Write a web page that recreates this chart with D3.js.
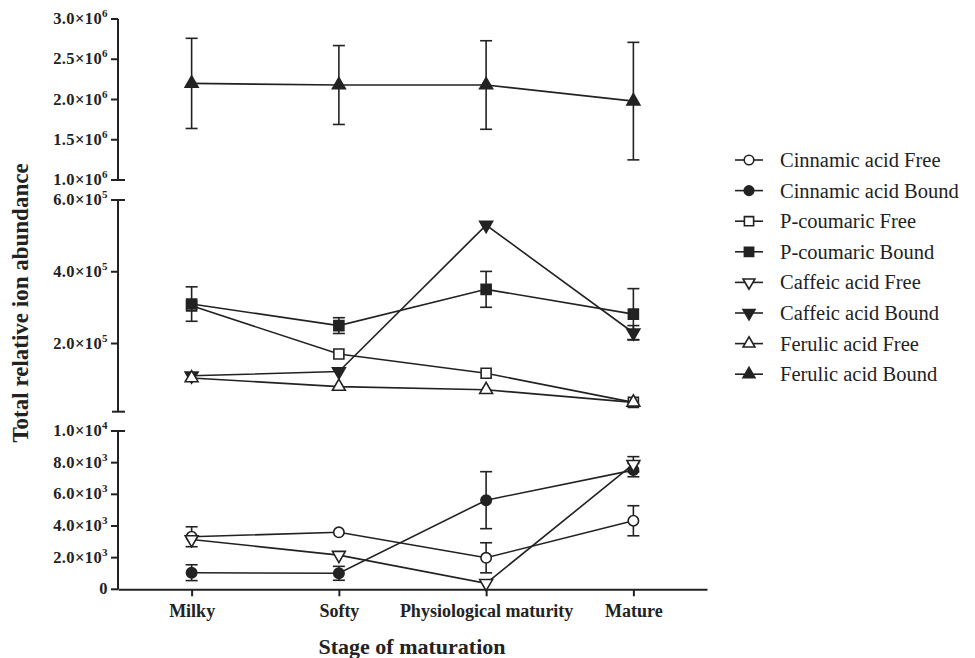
<!DOCTYPE html>
<meta charset="utf-8">
<head>
    <style>
        body { margin: 0; background: #fff; }
        svg { font-family: "Liberation Serif", "Times New Roman", serif; }
        .tick-label { font-weight: bold; font-size: 16.5px; letter-spacing: 0.4px; fill: #222; }
        .cat-label { font-weight: bold; font-size: 18px; fill: #222; }
        .axis-title { font-weight: bold; font-size: 22px; fill: #222; }
        .y-title { font-size: 23px; }
        .legend text { font-size: 20.5px; fill: #222; }
    </style>
    <script src="https://d3js.org/d3.v7.min.js"></script>
</head>
<body>
<script>

    // stages on the x axis
    var stages = ["Milky", "Softy", "Physiological maturity", "Mature"];

    // series values (mean) and error (+/-)
    var cinnamicFree      = [3320, 3600, 1990, 4330];
    var cinnamicFreeErr   = [630, 0, 950, 950];
    var cinnamicBound     = [1050, 1010, 5630, 7530];
    var cinnamicBoundErr  = [500, 440, 1800, 420];
    var pCoumaricFree     = [305000, 171000, 117000, 36000];
    var pCoumaricFreeErr  = [0, 0, 0, 0];
    var pCoumaricBound    = [310000, 250000, 351000, 282000];
    var pCoumaricBoundErr = [48000, 22000, 50000, 71000];
    var caffeicFree       = [3150, 2160, 380, 7900];
    var caffeicFreeErr    = [0, 0, 0, 480];
    var caffeicBound      = [110000, 122000, 530000, 230000];
    var caffeicBoundErr   = [0, 0, 0, 20000];
    var ferulicFree       = [104000, 80000, 71000, 36000];
    var ferulicFreeErr    = [0, 0, 0, 0];
    var ferulicBound      = [2200000, 2180000, 2180000, 1980000];
    var ferulicBoundErr   = [560000, 490000, 550000, 730000];

    // y tick labels per axis segment: [value, mantissa, exponent]
    var topTicks = [[1e6, "1.0", "6"], [1.5e6, "1.5", "6"], [2e6, "2.0", "6"], [2.5e6, "2.5", "6"], [3e6, "3.0", "6"]];
    var midTicks = [[2e5, "2.0", "5"], [4e5, "4.0", "5"], [6e5, "6.0", "5"]];
    var botTicks = [[0, "0", ""], [2e3, "2.0", "3"], [4e3, "4.0", "3"], [6e3, "6.0", "3"], [8e3, "8.0", "3"], [1e4, "1.0", "4"]];

    var width = 975, height = 658;
    var axisX = 118, axisRight = 707;
    var ink = "#222";

    var svg = d3.select("body").append("svg")
        .attr("width", width)
        .attr("height", height);

    var x = d3.scalePoint()
        .domain(stages)
        .range([axisX, axisRight])
        .padding(0.5);

    // broken y axis: three segments
    var yTop = d3.scaleLinear().domain([1e6, 3e6]).range([180, 19]);
    var yMid = d3.scaleLinear().domain([1e4, 6e5]).range([411.7, 200]);
    var yBot = d3.scaleLinear().domain([0, 1e4]).range([589.3, 431]);

    var series = [
        {name: "Cinnamic acid Free",  v: cinnamicFree,   e: cinnamicFreeErr,   y: yBot, shape: "circle",   fill: false},
        {name: "Cinnamic acid Bound", v: cinnamicBound,  e: cinnamicBoundErr,  y: yBot, shape: "circle",   fill: true},
        {name: "P-coumaric Free",     v: pCoumaricFree,  e: pCoumaricFreeErr,  y: yMid, shape: "square",   fill: false},
        {name: "P-coumaric Bound",    v: pCoumaricBound, e: pCoumaricBoundErr, y: yMid, shape: "square",   fill: true},
        {name: "Caffeic acid Free",   v: caffeicFree,    e: caffeicFreeErr,    y: yBot, shape: "down",     fill: false},
        {name: "Caffeic acid Bound",  v: caffeicBound,   e: caffeicBoundErr,   y: yMid, shape: "down",     fill: true},
        {name: "Ferulic acid Free",   v: ferulicFree,    e: ferulicFreeErr,    y: yMid, shape: "up",       fill: false},
        {name: "Ferulic acid Bound",  v: ferulicBound,   e: ferulicBoundErr,   y: yTop, shape: "up",       fill: true}
    ];

    function symbolFor(shape, k) {
        k = k || 1;
        if (shape == "circle") return d3.symbol().type(d3.symbolCircle).size(85 * k)();
        if (shape == "square") return d3.symbol().type(d3.symbolSquare).size(100 * k)();
        return d3.symbol().type(d3.symbolTriangle).size(72 * k)();
    }
    function rot(shape) { return shape == "down" ? " rotate(180)" : ""; }

    // ---- y axis segments
    var segs = [
        {s: yTop, ticks: topTicks, capTop: false, capBot: true},
        {s: yMid, ticks: midTicks, capTop: true, capBot: true},
        {s: yBot, ticks: botTicks, capTop: true, capBot: false}
    ];
    var ax = svg.append("g").attr("class", "y-axis");
    segs.forEach(function (seg) {
        var r = seg.s.range();
        ax.append("line")
            .attr("x1", axisX).attr("x2", axisX)
            .attr("y1", r[0]).attr("y2", r[1])
            .attr("stroke", ink).attr("stroke-width", 2);
        seg.ticks.forEach(function (t) {
            var yy = seg.s(t[0]);
            ax.append("line")
                .attr("x1", axisX - 7).attr("x2", axisX)
                .attr("y1", yy).attr("y2", yy)
                .attr("stroke", ink).attr("stroke-width", 2);
            var txt = ax.append("text")
                .attr("class", "tick-label")
                .attr("x", axisX - 10)
                .attr("y", yy + 5)
                .attr("text-anchor", "end");
            if (t[2] === "") {
                txt.text(t[1]);
            } else {
                txt.append("tspan").text(t[1] + "\u00d710");
                txt.append("tspan").attr("dy", -7).attr("font-size", "11px").text(t[2]);
            }
        });
        // break caps
        if (seg.capBot) {
            ax.append("line").attr("x1", axisX - 6).attr("x2", axisX + 7)
                .attr("y1", r[0]).attr("y2", r[0]).attr("stroke", ink).attr("stroke-width", 2);
        }
        if (seg.capTop) {
            ax.append("line").attr("x1", axisX - 6).attr("x2", axisX + 7)
                .attr("y1", r[1]).attr("y2", r[1]).attr("stroke", ink).attr("stroke-width", 2);
        }
    });

    // ---- x axis
    var xAxis = svg.append("g")
        .attr("transform", "translate(0," + yBot(0) + ")")
        .call(d3.axisBottom(x).tickSizeOuter(0).tickSizeInner(7).tickPadding(8));
    xAxis.select(".domain").attr("stroke", ink).attr("stroke-width", 2);
    xAxis.selectAll(".tick line").attr("stroke", ink).attr("stroke-width", 2);
    xAxis.selectAll(".tick text")
        .attr("class", "cat-label")
        .attr("font-size", null)
        .attr("font-family", null)
        .attr("fill", null);
    xAxis.attr("font-size", null).attr("font-family", null);

    // ---- axis titles
    svg.append("text")
        .attr("class", "axis-title")
        .attr("x", 412).attr("y", 654)
        .attr("text-anchor", "middle")
        .text("Stage of maturation");

    svg.append("text")
        .attr("class", "axis-title y-title")
        .attr("transform", "translate(28,303) rotate(-90)")
        .attr("text-anchor", "middle")
        .text("Total relative ion abundance");

    // ---- series
    var plot = svg.append("g").attr("class", "series");

    series.forEach(function (s) {
        var g = plot.append("g");
        var pts = stages.map(function (st, i) { return {x: x(st), v: s.v[i], e: s.e[i]}; });

        g.append("path")
            .datum(pts)
            .attr("fill", "none")
            .attr("stroke", ink)
            .attr("stroke-width", 1.6)
            .attr("d", d3.line().x(function (d) { return d.x; }).y(function (d) { return s.y(d.v); }));

        var eb = g.selectAll(".err").data(pts.filter(function (d) { return d.e > 0; }))
            .enter().append("g").attr("class", "err");
        eb.append("line")
            .attr("x1", function (d) { return d.x; }).attr("x2", function (d) { return d.x; })
            .attr("y1", function (d) { return s.y(d.v - d.e); })
            .attr("y2", function (d) { return s.y(d.v + d.e); })
            .attr("stroke", ink).attr("stroke-width", 1.6);
        [-1, 1].forEach(function (sg) {
            eb.append("line")
                .attr("x1", function (d) { return d.x - 6; }).attr("x2", function (d) { return d.x + 6; })
                .attr("y1", function (d) { return s.y(d.v + sg * d.e); })
                .attr("y2", function (d) { return s.y(d.v + sg * d.e); })
                .attr("stroke", ink).attr("stroke-width", 1.6);
        });

        g.selectAll(".mk").data(pts).enter().append("path")
            .attr("class", "mk")
            .attr("d", symbolFor(s.shape))
            .attr("transform", function (d) { return "translate(" + d.x + "," + s.y(d.v) + ")" + rot(s.shape); })
            .attr("fill", s.fill ? ink : "#fff")
            .attr("stroke", ink)
            .attr("stroke-width", 1.6);
    });

    // ---- legend
    var legend = svg.append("g").attr("class", "legend")
        .attr("transform", "translate(735,160)");
    var row = legend.selectAll("g").data(series).enter().append("g")
        .attr("transform", function (d, i) { return "translate(0," + (i * 30.6) + ")"; });
    row.append("line")
        .attr("x1", 0).attr("x2", 28).attr("y1", 0).attr("y2", 0)
        .attr("stroke", ink).attr("stroke-width", 1.6);
    row.append("path")
        .attr("d", function (d) { return symbolFor(d.shape, 0.85); })
        .attr("transform", function (d) { return "translate(14,0)" + rot(d.shape); })
        .attr("fill", function (d) { return d.fill ? ink : "#fff"; })
        .attr("stroke", ink).attr("stroke-width", 1.6);
    row.append("text")
        .attr("x", 45).attr("y", 7)
        .text(function (d) { return d.name; });

</script>
</body>
</html>
